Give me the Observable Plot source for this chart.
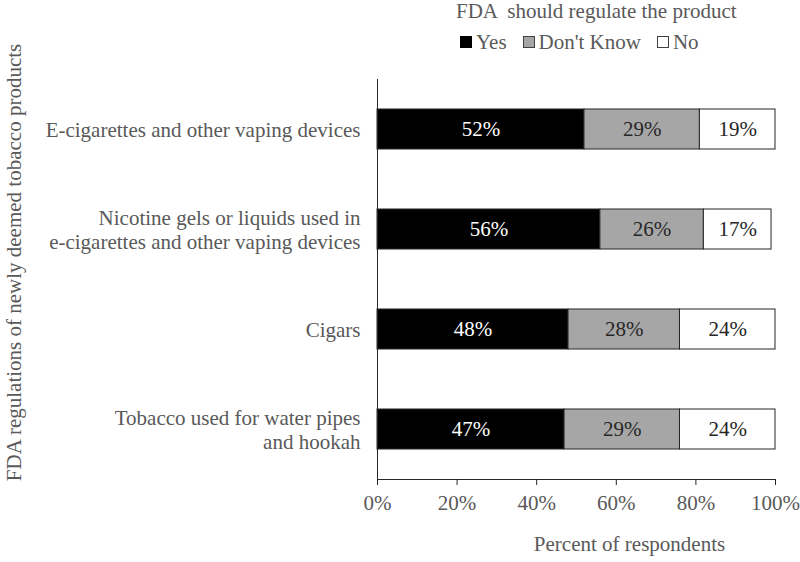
<!DOCTYPE html>
<html>
<head>
<meta charset="utf-8">
<script src="https://cdn.jsdelivr.net/npm/d3@7"></script>
<script src="https://cdn.jsdelivr.net/npm/@observablehq/plot@0.6"></script>
<style>
  body { margin: 0; background: #fff; font-family: "Liberation Serif", "Times New Roman", serif; }
  #wrap { width: 800px; height: 562px; position: relative; }
  #header { position: absolute; left: 0; top: 0; width: 800px; height: 60px; color: #595959; font-size: 21px; z-index: 2; }
  #title { position: absolute; left: 456px; top: 0px; white-space: pre; line-height: 22px; }
  #legend { position: absolute; left: 460px; top: 30px; display: flex; gap: 16px; line-height: 24px; }
  .item { display: flex; align-items: center; gap: 4px; }
  .sw { width: 10px; height: 10px; border: 1px solid #000; box-sizing: content-box; }
</style>
</head>
<body>
<div id="wrap">
  <div id="chart"></div>
  <div id="header">
    <div id="title"></div>
    <div id="legend"></div>
  </div>
</div>
<script>
const categories = [
  "E-cigarettes and other vaping devices",
  "Nicotine gels or liquids used in\ne-cigarettes and other vaping devices",
  "Cigars",
  "Tobacco used for water pipes\nand hookah"
];
const responses = ["Yes", "Don't Know", "No"];
const yesValues = [52, 56, 48, 47];
const dontKnowValues = [29, 26, 28, 29];
const noValues = [19, 17, 24, 24];
const xTicks = [0, 20, 40, 60, 80, 100];
const legendTitle = "FDA  should regulate the product";
const yLabel = "FDA regulations of newly deemed tobacco products";
const xLabel = "Percent of respondents";
const colors = ["#000000", "#a6a6a6", "#ffffff"];
const FONT = "Liberation Serif";

const series = [yesValues, dontKnowValues, noValues];
const rows = [];
categories.forEach((c, i) => {
  let acc = 0;
  responses.forEach((r, j) => {
    const v = series[j][i];
    rows.push({category: c, response: r, value: v, x1: acc, x2: acc + v});
    acc += v;
  });
});

document.getElementById("title").textContent = legendTitle;
const leg = document.getElementById("legend");
responses.forEach((r, j) => {
  const it = document.createElement("div");
  it.className = "item";
  const sw = document.createElement("span");
  sw.className = "sw";
  sw.style.background = colors[j];
  if (j > 0) sw.style.borderColor = "#404040";
  const t = document.createElement("span");
  t.textContent = r;
  it.appendChild(sw); it.appendChild(t);
  leg.appendChild(it);
});

const chart = Plot.plot({
  width: 800,
  height: 562,
  marginLeft: 377,
  marginRight: 25,
  marginTop: 79,
  marginBottom: 83,
  style: {fontFamily: FONT, fontSize: "21px", color: "#595959", background: "white"},
  x: {domain: [0, 100]},
  y: {domain: categories, paddingInner: 0.6, paddingOuter: 0.3},
  color: {domain: responses, range: colors},
  marks: [
    Plot.barX(rows, {y: "category", x1: "x1", x2: "x2", fill: "response", stroke: "#262626", strokeWidth: 1}),
    Plot.frame({anchor: "bottom", stroke: "#262626"}),
    Plot.frame({anchor: "left", stroke: "#262626"}),
    Plot.axisX({ticks: xTicks, tickFormat: d => d + "%", tickSize: 6, tickPadding: 10, label: null, stroke: "#262626", fill: "#595959", fontSize: 21, fontFamily: FONT}),
    Plot.axisY({tickSize: 0, tickPadding: 17, label: null, fill: "#595959", fontSize: 21, fontFamily: FONT, lineHeight: 1.15}),
    Plot.text(rows.filter(d => d.response === "Yes"), {y: "category", x: d => (d.x1 + d.x2) / 2, text: d => d.value + "%", fill: "white", fontSize: 21, fontFamily: FONT}),
    Plot.text(rows.filter(d => d.response !== "Yes"), {y: "category", x: d => (d.x1 + d.x2) / 2, text: d => d.value + "%", fill: "#262626", fontSize: 21, fontFamily: FONT}),
    Plot.text([yLabel], {frameAnchor: "left", textAnchor: "middle", text: d => d, rotate: -90, dx: -363, dy: -17, fill: "#595959", fontSize: 21, fontFamily: FONT}),
    Plot.text([xLabel], {frameAnchor: "bottom", textAnchor: "middle", text: d => d, dx: 53, dy: 71, fill: "#595959", fontSize: 21, fontFamily: FONT})
  ]
});
document.getElementById("chart").appendChild(chart);
</script>
</body>
</html>
